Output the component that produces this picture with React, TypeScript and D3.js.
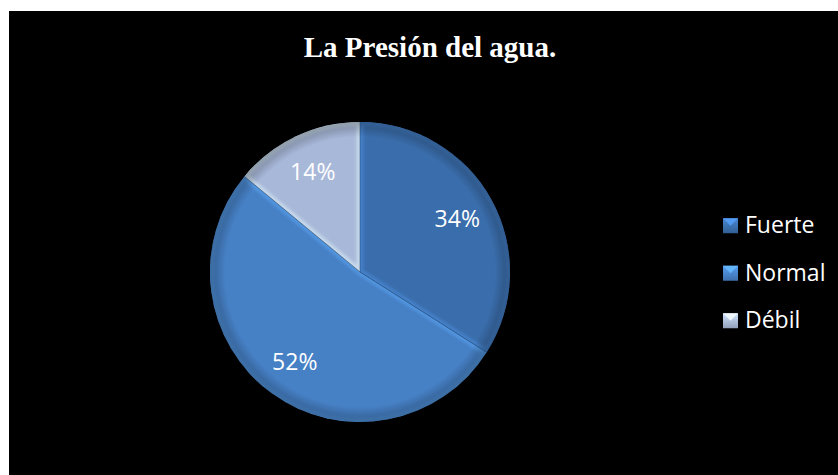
import React from 'react';
import * as d3 from 'd3';

const categories = ['Fuerte', 'Normal', 'Débil'];
const values = [34, 52, 14];
const colors = ['#3a6dab', '#4680c5', '#a8b8d9'];
const title = 'La Presión del agua.';

const W = 838;
const H = 475;

const App = () => {
  const cx = 360;
  const cy = 272;
  const radius = 150;

  const data = categories.map((name, i) => ({ name, value: values[i], color: colors[i] }));
  const pie = d3
    .pie<any>()
    .sort(null)
    .value((d) => d.value);
  const arcs = pie(data);
  const arc = d3.arc<any>().innerRadius(0).outerRadius(radius);
  const labelArc = d3.arc<any>().innerRadius(radius * 0.74).outerRadius(radius * 0.74);

  // legend rows (band centre = text baseline)
  const legendY = d3.scaleBand().domain(categories).range([209.5, 352]);

  return (
    <svg width={W} height={H} style={{ position: 'absolute', left: 0, top: 0 }}>
      <defs>
        <radialGradient id="rim" cx="0" cy="0" r={radius} gradientUnits="userSpaceOnUse">
          <stop offset="0.9" stopColor="#000" stopOpacity="0" />
          <stop offset="1" stopColor="#000" stopOpacity="0.28" />
        </radialGradient>
        <filter id="soft" x="-20%" y="-20%" width="140%" height="140%">
          <feGaussianBlur stdDeviation="1.6" />
        </filter>
        {arcs.map((a, i) => (
          <clipPath id={`clip-${i}`} key={i}>
            <path d={arc(a) || ''} />
          </clipPath>
        ))}
        {colors.map((c, i) => (
          <linearGradient id={`leg-${i}`} key={i} x1="0" y1="0" x2="0" y2="1">
            <stop offset="0" stopColor={d3.color(c)!.brighter(0.6).toString()} />
            <stop offset="1" stopColor={d3.color(c)!.darker(0.4).toString()} />
          </linearGradient>
        ))}
      </defs>
      <rect x={0} y={0} width={W} height={H} fill="#fff" />
      <rect x={9} y={11} width={W - 9} height={H - 11} fill="#000" />

      <text
        x={430}
        y={57}
        textAnchor="middle"
        fill="#fff"
        fontFamily="'Liberation Serif', 'Times New Roman', serif"
        fontWeight="bold"
        fontSize={29}
      >
        {title}
      </text>

      <g transform={`translate(${cx},${cy})`}>
        {arcs.map((a, i) => (
          <g key={i}>
            <path d={arc(a) || ''} fill={a.data.color} />
            <g clipPath={`url(#clip-${i})`}>
              <path
                d={arc(a) || ''}
                fill="none"
                stroke={d3.color(a.data.color)!.brighter(0.9).toString()}
                strokeWidth={7}
                strokeOpacity={0.45}
                filter="url(#soft)"
              />
            </g>
          </g>
        ))}
        <circle r={radius} fill="url(#rim)" />
        {arcs.map((a, i) => (
          <path
            key={`sep-${i}`}
            d={`M0,0L${radius * Math.sin(a.startAngle)},${-radius * Math.cos(a.startAngle)}`}
            stroke="#1f3f6a"
            strokeOpacity={0.5}
            strokeWidth={1}
          />
        ))}
        {arcs.map((a, i) => {
          const [lx, ly] = labelArc.centroid(a);
          return (
            <text
              key={`lab-${i}`}
              x={lx}
              y={ly}
              dy="0.35em"
              textAnchor="middle"
              fill="#fff"
              fontFamily="'Open Sans', sans-serif"
              fontSize={23}
            >
              {`${a.data.value}%`}
            </text>
          );
        })}
      </g>

      <g fontFamily="'Open Sans', sans-serif" fontSize={23} fill="#fff">
        {categories.map((c, i) => {
          const y = (legendY(c) || 0) + legendY.bandwidth() / 2;
          return (
            <g key={c} transform={`translate(723,${y})`}>
              <rect x={0} y={-15} width={15} height={15} fill={`url(#leg-${i})`} />
              <path
                d="M0,-15L15,-15L7.5,-7.5Z"
                fill={d3.color(colors[i])!.brighter(1.1).toString()}
                fillOpacity={0.8}
              />
              <text x={22} y={0}>
                {c}
              </text>
            </g>
          );
        })}
      </g>
    </svg>
  );
};

export default App;
